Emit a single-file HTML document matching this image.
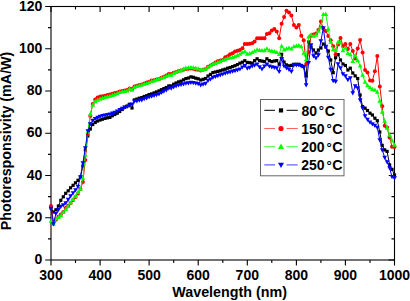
<!DOCTYPE html>
<html><head><meta charset="utf-8"><style>
html,body{margin:0;padding:0;background:#fff;width:410px;height:301px;overflow:hidden}
svg{display:block}
text{font-family:"Liberation Sans",sans-serif;font-weight:bold;font-size:14px;fill:#000}
</style></head><body>
<svg width="410" height="301" viewBox="0 0 410 301">
<g stroke="#000" stroke-width="1.1" fill="none">
<rect x="51.0" y="6.5" width="343.5" height="253.5"/>
<path d="M51.0 260.0V265.5M51.0 6.5V12.0M75.5 260.0V263.0M75.5 6.5V9.5M100.1 260.0V265.5M100.1 6.5V12.0M124.6 260.0V263.0M124.6 6.5V9.5M149.1 260.0V265.5M149.1 6.5V12.0M173.7 260.0V263.0M173.7 6.5V9.5M198.2 260.0V265.5M198.2 6.5V12.0M222.8 260.0V263.0M222.8 6.5V9.5M247.3 260.0V265.5M247.3 6.5V12.0M271.8 260.0V263.0M271.8 6.5V9.5M296.4 260.0V265.5M296.4 6.5V12.0M320.9 260.0V263.0M320.9 6.5V9.5M345.4 260.0V265.5M345.4 6.5V12.0M370.0 260.0V263.0M370.0 6.5V9.5M394.5 260.0V265.5M394.5 6.5V12.0M51.0 260.0H45.2M394.5 260.0H388.7M51.0 238.9H48.0M394.5 238.9H391.5M51.0 217.8H45.2M394.5 217.8H388.7M51.0 196.6H48.0M394.5 196.6H391.5M51.0 175.5H45.2M394.5 175.5H388.7M51.0 154.4H48.0M394.5 154.4H391.5M51.0 133.2H45.2M394.5 133.2H388.7M51.0 112.1H48.0M394.5 112.1H391.5M51.0 91.0H45.2M394.5 91.0H388.7M51.0 69.9H48.0M394.5 69.9H391.5M51.0 48.8H45.2M394.5 48.8H388.7M51.0 27.6H48.0M394.5 27.6H391.5M51.0 6.5H45.2M394.5 6.5H388.7"/>
</g>
<polyline fill="none" stroke="#000000" stroke-width="1" points="51.0,208.0 53.5,212.0 55.9,209.8 58.4,206.0 60.8,200.3 63.3,196.8 65.7,193.3 68.2,190.8 70.6,187.8 73.1,185.3 75.5,182.8 78.0,180.3 80.4,177.0 82.9,166.0 85.3,150.0 87.8,136.0 90.3,129.0 92.7,124.5 95.2,122.5 97.6,121.0 100.1,120.0 102.5,119.2 105.0,118.4 107.4,117.8 109.9,117.4 112.3,115.8 114.8,114.5 117.2,113.2 119.7,111.5 122.2,109.5 124.6,107.3 127.1,106.0 129.5,104.3 132.0,108.0 134.4,99.9 136.9,99.1 139.3,98.2 141.8,97.6 144.2,96.5 146.7,95.7 149.1,94.6 151.6,93.9 154.1,92.9 156.5,91.9 159.0,90.9 161.4,89.7 163.9,88.6 166.3,87.5 168.8,85.9 171.2,85.9 173.7,84.2 176.1,83.0 178.6,81.9 181.0,81.2 183.5,79.8 185.9,78.6 188.4,78.0 190.9,76.9 193.3,77.3 195.8,78.2 198.2,78.8 200.7,80.0 203.1,79.3 205.6,78.5 208.0,76.0 210.5,74.4 212.9,72.6 215.4,72.0 217.8,71.4 220.3,70.8 222.8,69.9 225.2,69.2 227.7,68.2 230.1,67.5 232.6,66.6 235.0,65.7 237.5,64.6 239.9,63.2 242.4,62.2 244.8,60.7 247.3,62.4 249.7,62.7 252.2,63.2 254.6,60.7 257.1,58.8 259.6,60.6 262.0,61.1 264.5,61.6 266.9,58.8 269.4,60.6 271.8,61.6 274.3,61.0 276.7,60.6 279.2,64.3 281.6,54.3 284.1,62.1 286.5,64.9 289.0,65.8 291.4,65.4 293.9,64.3 296.4,64.3 298.8,64.3 301.3,65.4 303.7,66.5 306.2,76.0 308.6,42.0 311.1,47.0 313.5,50.0 316.0,53.0 318.4,50.0 320.9,48.0 323.3,44.0 325.8,47.0 328.3,51.0 330.7,60.0 333.2,72.7 335.6,57.7 338.1,54.6 340.5,60.0 343.0,64.0 345.4,65.5 347.9,70.0 350.3,68.2 352.8,73.0 355.2,75.9 357.7,78.5 360.1,95.0 362.6,106.6 365.1,108.2 367.5,110.5 370.0,113.2 372.4,115.0 374.9,118.2 377.3,120.7 379.8,132.0 382.2,145.4 384.7,149.9 387.1,151.4 389.6,164.9 392.0,169.3 394.5,175.0"/>
<g fill="#000000"><rect x="49.4" y="206.4" width="3.2" height="3.2"/><rect x="51.9" y="210.4" width="3.2" height="3.2"/><rect x="54.3" y="208.2" width="3.2" height="3.2"/><rect x="56.8" y="204.4" width="3.2" height="3.2"/><rect x="59.2" y="198.7" width="3.2" height="3.2"/><rect x="61.7" y="195.2" width="3.2" height="3.2"/><rect x="64.1" y="191.7" width="3.2" height="3.2"/><rect x="66.6" y="189.2" width="3.2" height="3.2"/><rect x="69.0" y="186.2" width="3.2" height="3.2"/><rect x="71.5" y="183.7" width="3.2" height="3.2"/><rect x="73.9" y="181.2" width="3.2" height="3.2"/><rect x="76.4" y="178.7" width="3.2" height="3.2"/><rect x="78.8" y="175.4" width="3.2" height="3.2"/><rect x="81.3" y="164.4" width="3.2" height="3.2"/><rect x="83.8" y="148.4" width="3.2" height="3.2"/><rect x="86.2" y="134.4" width="3.2" height="3.2"/><rect x="88.7" y="127.4" width="3.2" height="3.2"/><rect x="91.1" y="122.9" width="3.2" height="3.2"/><rect x="93.6" y="120.9" width="3.2" height="3.2"/><rect x="96.0" y="119.4" width="3.2" height="3.2"/><rect x="98.5" y="118.4" width="3.2" height="3.2"/><rect x="100.9" y="117.6" width="3.2" height="3.2"/><rect x="103.4" y="116.8" width="3.2" height="3.2"/><rect x="105.8" y="116.2" width="3.2" height="3.2"/><rect x="108.3" y="115.8" width="3.2" height="3.2"/><rect x="110.7" y="114.2" width="3.2" height="3.2"/><rect x="113.2" y="112.9" width="3.2" height="3.2"/><rect x="115.6" y="111.6" width="3.2" height="3.2"/><rect x="118.1" y="109.9" width="3.2" height="3.2"/><rect x="120.6" y="107.9" width="3.2" height="3.2"/><rect x="123.0" y="105.7" width="3.2" height="3.2"/><rect x="125.5" y="104.4" width="3.2" height="3.2"/><rect x="127.9" y="102.7" width="3.2" height="3.2"/><rect x="130.4" y="106.4" width="3.2" height="3.2"/><rect x="132.8" y="98.3" width="3.2" height="3.2"/><rect x="135.3" y="97.5" width="3.2" height="3.2"/><rect x="137.7" y="96.6" width="3.2" height="3.2"/><rect x="140.2" y="96.0" width="3.2" height="3.2"/><rect x="142.6" y="94.9" width="3.2" height="3.2"/><rect x="145.1" y="94.1" width="3.2" height="3.2"/><rect x="147.5" y="93.0" width="3.2" height="3.2"/><rect x="150.0" y="92.3" width="3.2" height="3.2"/><rect x="152.5" y="91.3" width="3.2" height="3.2"/><rect x="154.9" y="90.3" width="3.2" height="3.2"/><rect x="157.4" y="89.3" width="3.2" height="3.2"/><rect x="159.8" y="88.1" width="3.2" height="3.2"/><rect x="162.3" y="87.0" width="3.2" height="3.2"/><rect x="164.7" y="85.9" width="3.2" height="3.2"/><rect x="167.2" y="84.3" width="3.2" height="3.2"/><rect x="169.6" y="84.3" width="3.2" height="3.2"/><rect x="172.1" y="82.6" width="3.2" height="3.2"/><rect x="174.5" y="81.4" width="3.2" height="3.2"/><rect x="177.0" y="80.3" width="3.2" height="3.2"/><rect x="179.4" y="79.6" width="3.2" height="3.2"/><rect x="181.9" y="78.2" width="3.2" height="3.2"/><rect x="184.3" y="77.0" width="3.2" height="3.2"/><rect x="186.8" y="76.4" width="3.2" height="3.2"/><rect x="189.3" y="75.3" width="3.2" height="3.2"/><rect x="191.7" y="75.7" width="3.2" height="3.2"/><rect x="194.2" y="76.6" width="3.2" height="3.2"/><rect x="196.6" y="77.2" width="3.2" height="3.2"/><rect x="199.1" y="78.4" width="3.2" height="3.2"/><rect x="201.5" y="77.7" width="3.2" height="3.2"/><rect x="204.0" y="76.9" width="3.2" height="3.2"/><rect x="206.4" y="74.4" width="3.2" height="3.2"/><rect x="208.9" y="72.8" width="3.2" height="3.2"/><rect x="211.3" y="71.0" width="3.2" height="3.2"/><rect x="213.8" y="70.4" width="3.2" height="3.2"/><rect x="216.2" y="69.8" width="3.2" height="3.2"/><rect x="218.7" y="69.2" width="3.2" height="3.2"/><rect x="221.2" y="68.3" width="3.2" height="3.2"/><rect x="223.6" y="67.6" width="3.2" height="3.2"/><rect x="226.1" y="66.6" width="3.2" height="3.2"/><rect x="228.5" y="65.9" width="3.2" height="3.2"/><rect x="231.0" y="65.0" width="3.2" height="3.2"/><rect x="233.4" y="64.1" width="3.2" height="3.2"/><rect x="235.9" y="63.0" width="3.2" height="3.2"/><rect x="238.3" y="61.6" width="3.2" height="3.2"/><rect x="240.8" y="60.6" width="3.2" height="3.2"/><rect x="243.2" y="59.1" width="3.2" height="3.2"/><rect x="245.7" y="60.8" width="3.2" height="3.2"/><rect x="248.1" y="61.1" width="3.2" height="3.2"/><rect x="250.6" y="61.6" width="3.2" height="3.2"/><rect x="253.0" y="59.1" width="3.2" height="3.2"/><rect x="255.5" y="57.2" width="3.2" height="3.2"/><rect x="258.0" y="59.0" width="3.2" height="3.2"/><rect x="260.4" y="59.5" width="3.2" height="3.2"/><rect x="262.9" y="60.0" width="3.2" height="3.2"/><rect x="265.3" y="57.2" width="3.2" height="3.2"/><rect x="267.8" y="59.0" width="3.2" height="3.2"/><rect x="270.2" y="60.0" width="3.2" height="3.2"/><rect x="272.7" y="59.4" width="3.2" height="3.2"/><rect x="275.1" y="59.0" width="3.2" height="3.2"/><rect x="277.6" y="62.7" width="3.2" height="3.2"/><rect x="280.0" y="52.7" width="3.2" height="3.2"/><rect x="282.5" y="60.5" width="3.2" height="3.2"/><rect x="284.9" y="63.3" width="3.2" height="3.2"/><rect x="287.4" y="64.2" width="3.2" height="3.2"/><rect x="289.8" y="63.8" width="3.2" height="3.2"/><rect x="292.3" y="62.7" width="3.2" height="3.2"/><rect x="294.8" y="62.7" width="3.2" height="3.2"/><rect x="297.2" y="62.7" width="3.2" height="3.2"/><rect x="299.7" y="63.8" width="3.2" height="3.2"/><rect x="302.1" y="64.9" width="3.2" height="3.2"/><rect x="304.6" y="74.4" width="3.2" height="3.2"/><rect x="307.0" y="40.4" width="3.2" height="3.2"/><rect x="309.5" y="45.4" width="3.2" height="3.2"/><rect x="311.9" y="48.4" width="3.2" height="3.2"/><rect x="314.4" y="51.4" width="3.2" height="3.2"/><rect x="316.8" y="48.4" width="3.2" height="3.2"/><rect x="319.3" y="46.4" width="3.2" height="3.2"/><rect x="321.7" y="42.4" width="3.2" height="3.2"/><rect x="324.2" y="45.4" width="3.2" height="3.2"/><rect x="326.7" y="49.4" width="3.2" height="3.2"/><rect x="329.1" y="58.4" width="3.2" height="3.2"/><rect x="331.6" y="71.1" width="3.2" height="3.2"/><rect x="334.0" y="56.1" width="3.2" height="3.2"/><rect x="336.5" y="53.0" width="3.2" height="3.2"/><rect x="338.9" y="58.4" width="3.2" height="3.2"/><rect x="341.4" y="62.4" width="3.2" height="3.2"/><rect x="343.8" y="63.9" width="3.2" height="3.2"/><rect x="346.3" y="68.4" width="3.2" height="3.2"/><rect x="348.7" y="66.6" width="3.2" height="3.2"/><rect x="351.2" y="71.4" width="3.2" height="3.2"/><rect x="353.6" y="74.3" width="3.2" height="3.2"/><rect x="356.1" y="76.9" width="3.2" height="3.2"/><rect x="358.5" y="93.4" width="3.2" height="3.2"/><rect x="361.0" y="105.0" width="3.2" height="3.2"/><rect x="363.5" y="106.6" width="3.2" height="3.2"/><rect x="365.9" y="108.9" width="3.2" height="3.2"/><rect x="368.4" y="111.6" width="3.2" height="3.2"/><rect x="370.8" y="113.4" width="3.2" height="3.2"/><rect x="373.3" y="116.6" width="3.2" height="3.2"/><rect x="375.7" y="119.1" width="3.2" height="3.2"/><rect x="378.2" y="130.4" width="3.2" height="3.2"/><rect x="380.6" y="143.8" width="3.2" height="3.2"/><rect x="383.1" y="148.3" width="3.2" height="3.2"/><rect x="385.5" y="149.8" width="3.2" height="3.2"/><rect x="388.0" y="163.3" width="3.2" height="3.2"/><rect x="390.4" y="167.7" width="3.2" height="3.2"/><rect x="392.9" y="173.4" width="3.2" height="3.2"/></g>
<polyline fill="none" stroke="#ff0000" stroke-width="1" points="51.0,206.0 53.5,222.0 55.9,219.8 58.4,216.8 60.8,214.5 63.3,211.9 65.7,208.1 68.2,205.7 70.6,202.9 73.1,199.9 75.5,197.1 78.0,193.5 80.4,188.9 82.9,182.0 85.3,160.0 87.8,134.0 90.3,116.0 92.7,104.0 95.2,99.5 97.6,97.5 100.1,96.5 102.5,96.2 105.0,95.8 107.4,95.1 109.9,94.4 112.3,93.7 114.8,93.0 117.2,92.4 119.7,91.6 122.2,91.0 124.6,90.4 127.1,90.0 129.5,88.6 132.0,89.0 134.4,86.4 136.9,85.8 139.3,85.0 141.8,84.5 144.2,83.4 146.7,82.5 149.1,81.7 151.6,80.5 154.1,80.2 156.5,79.5 159.0,78.9 161.4,77.8 163.9,76.7 166.3,75.6 168.8,74.0 171.2,74.0 173.7,72.7 176.1,71.9 178.6,71.0 181.0,70.5 183.5,69.7 185.9,69.0 188.4,68.8 190.9,68.5 193.3,68.8 195.8,69.5 198.2,69.8 200.7,70.5 203.1,69.8 205.6,69.0 208.0,66.8 210.5,65.6 212.9,64.2 215.4,62.4 217.8,61.3 220.3,60.4 222.8,59.9 225.2,57.3 227.7,56.3 230.1,54.2 232.6,53.3 235.0,51.6 237.5,50.8 239.9,50.0 242.4,48.3 244.8,44.1 247.3,44.1 249.7,43.7 252.2,43.3 254.6,41.6 257.1,38.2 259.6,38.2 262.0,38.2 264.5,38.2 266.9,34.1 269.4,33.2 271.8,30.5 274.3,29.0 276.7,31.4 279.2,38.2 281.6,23.8 284.1,17.1 286.5,10.8 289.0,12.5 291.4,15.5 293.9,24.9 296.4,27.4 298.8,24.9 301.3,35.7 303.7,40.2 306.2,63.9 308.6,52.0 311.1,35.5 313.5,34.6 316.0,33.6 318.4,30.0 320.9,21.6 323.3,28.4 325.8,31.0 328.3,36.0 330.7,40.3 333.2,46.2 335.6,54.6 338.1,44.6 340.5,38.0 343.0,46.0 345.4,43.9 347.9,49.0 350.3,43.9 352.8,51.0 355.2,58.6 357.7,48.6 360.1,40.0 362.6,52.5 365.1,69.9 367.5,72.5 370.0,80.4 372.4,80.8 374.9,71.3 377.3,55.9 379.8,86.4 382.2,106.2 384.7,125.8 387.1,127.5 389.6,137.4 392.0,146.7 394.5,147.0"/>
<g fill="#ff0000"><circle cx="51.0" cy="206.0" r="2.0"/><circle cx="53.5" cy="222.0" r="2.0"/><circle cx="55.9" cy="219.8" r="2.0"/><circle cx="58.4" cy="216.8" r="2.0"/><circle cx="60.8" cy="214.5" r="2.0"/><circle cx="63.3" cy="211.9" r="2.0"/><circle cx="65.7" cy="208.1" r="2.0"/><circle cx="68.2" cy="205.7" r="2.0"/><circle cx="70.6" cy="202.9" r="2.0"/><circle cx="73.1" cy="199.9" r="2.0"/><circle cx="75.5" cy="197.1" r="2.0"/><circle cx="78.0" cy="193.5" r="2.0"/><circle cx="80.4" cy="188.9" r="2.0"/><circle cx="82.9" cy="182.0" r="2.0"/><circle cx="85.3" cy="160.0" r="2.0"/><circle cx="87.8" cy="134.0" r="2.0"/><circle cx="90.3" cy="116.0" r="2.0"/><circle cx="92.7" cy="104.0" r="2.0"/><circle cx="95.2" cy="99.5" r="2.0"/><circle cx="97.6" cy="97.5" r="2.0"/><circle cx="100.1" cy="96.5" r="2.0"/><circle cx="102.5" cy="96.2" r="2.0"/><circle cx="105.0" cy="95.8" r="2.0"/><circle cx="107.4" cy="95.1" r="2.0"/><circle cx="109.9" cy="94.4" r="2.0"/><circle cx="112.3" cy="93.7" r="2.0"/><circle cx="114.8" cy="93.0" r="2.0"/><circle cx="117.2" cy="92.4" r="2.0"/><circle cx="119.7" cy="91.6" r="2.0"/><circle cx="122.2" cy="91.0" r="2.0"/><circle cx="124.6" cy="90.4" r="2.0"/><circle cx="127.1" cy="90.0" r="2.0"/><circle cx="129.5" cy="88.6" r="2.0"/><circle cx="132.0" cy="89.0" r="2.0"/><circle cx="134.4" cy="86.4" r="2.0"/><circle cx="136.9" cy="85.8" r="2.0"/><circle cx="139.3" cy="85.0" r="2.0"/><circle cx="141.8" cy="84.5" r="2.0"/><circle cx="144.2" cy="83.4" r="2.0"/><circle cx="146.7" cy="82.5" r="2.0"/><circle cx="149.1" cy="81.7" r="2.0"/><circle cx="151.6" cy="80.5" r="2.0"/><circle cx="154.1" cy="80.2" r="2.0"/><circle cx="156.5" cy="79.5" r="2.0"/><circle cx="159.0" cy="78.9" r="2.0"/><circle cx="161.4" cy="77.8" r="2.0"/><circle cx="163.9" cy="76.7" r="2.0"/><circle cx="166.3" cy="75.6" r="2.0"/><circle cx="168.8" cy="74.0" r="2.0"/><circle cx="171.2" cy="74.0" r="2.0"/><circle cx="173.7" cy="72.7" r="2.0"/><circle cx="176.1" cy="71.9" r="2.0"/><circle cx="178.6" cy="71.0" r="2.0"/><circle cx="181.0" cy="70.5" r="2.0"/><circle cx="183.5" cy="69.7" r="2.0"/><circle cx="185.9" cy="69.0" r="2.0"/><circle cx="188.4" cy="68.8" r="2.0"/><circle cx="190.9" cy="68.5" r="2.0"/><circle cx="193.3" cy="68.8" r="2.0"/><circle cx="195.8" cy="69.5" r="2.0"/><circle cx="198.2" cy="69.8" r="2.0"/><circle cx="200.7" cy="70.5" r="2.0"/><circle cx="203.1" cy="69.8" r="2.0"/><circle cx="205.6" cy="69.0" r="2.0"/><circle cx="208.0" cy="66.8" r="2.0"/><circle cx="210.5" cy="65.6" r="2.0"/><circle cx="212.9" cy="64.2" r="2.0"/><circle cx="215.4" cy="62.4" r="2.0"/><circle cx="217.8" cy="61.3" r="2.0"/><circle cx="220.3" cy="60.4" r="2.0"/><circle cx="222.8" cy="59.9" r="2.0"/><circle cx="225.2" cy="57.3" r="2.0"/><circle cx="227.7" cy="56.3" r="2.0"/><circle cx="230.1" cy="54.2" r="2.0"/><circle cx="232.6" cy="53.3" r="2.0"/><circle cx="235.0" cy="51.6" r="2.0"/><circle cx="237.5" cy="50.8" r="2.0"/><circle cx="239.9" cy="50.0" r="2.0"/><circle cx="242.4" cy="48.3" r="2.0"/><circle cx="244.8" cy="44.1" r="2.0"/><circle cx="247.3" cy="44.1" r="2.0"/><circle cx="249.7" cy="43.7" r="2.0"/><circle cx="252.2" cy="43.3" r="2.0"/><circle cx="254.6" cy="41.6" r="2.0"/><circle cx="257.1" cy="38.2" r="2.0"/><circle cx="259.6" cy="38.2" r="2.0"/><circle cx="262.0" cy="38.2" r="2.0"/><circle cx="264.5" cy="38.2" r="2.0"/><circle cx="266.9" cy="34.1" r="2.0"/><circle cx="269.4" cy="33.2" r="2.0"/><circle cx="271.8" cy="30.5" r="2.0"/><circle cx="274.3" cy="29.0" r="2.0"/><circle cx="276.7" cy="31.4" r="2.0"/><circle cx="279.2" cy="38.2" r="2.0"/><circle cx="281.6" cy="23.8" r="2.0"/><circle cx="284.1" cy="17.1" r="2.0"/><circle cx="286.5" cy="10.8" r="2.0"/><circle cx="289.0" cy="12.5" r="2.0"/><circle cx="291.4" cy="15.5" r="2.0"/><circle cx="293.9" cy="24.9" r="2.0"/><circle cx="296.4" cy="27.4" r="2.0"/><circle cx="298.8" cy="24.9" r="2.0"/><circle cx="301.3" cy="35.7" r="2.0"/><circle cx="303.7" cy="40.2" r="2.0"/><circle cx="306.2" cy="63.9" r="2.0"/><circle cx="308.6" cy="52.0" r="2.0"/><circle cx="311.1" cy="35.5" r="2.0"/><circle cx="313.5" cy="34.6" r="2.0"/><circle cx="316.0" cy="33.6" r="2.0"/><circle cx="318.4" cy="30.0" r="2.0"/><circle cx="320.9" cy="21.6" r="2.0"/><circle cx="323.3" cy="28.4" r="2.0"/><circle cx="325.8" cy="31.0" r="2.0"/><circle cx="328.3" cy="36.0" r="2.0"/><circle cx="330.7" cy="40.3" r="2.0"/><circle cx="333.2" cy="46.2" r="2.0"/><circle cx="335.6" cy="54.6" r="2.0"/><circle cx="338.1" cy="44.6" r="2.0"/><circle cx="340.5" cy="38.0" r="2.0"/><circle cx="343.0" cy="46.0" r="2.0"/><circle cx="345.4" cy="43.9" r="2.0"/><circle cx="347.9" cy="49.0" r="2.0"/><circle cx="350.3" cy="43.9" r="2.0"/><circle cx="352.8" cy="51.0" r="2.0"/><circle cx="355.2" cy="58.6" r="2.0"/><circle cx="357.7" cy="48.6" r="2.0"/><circle cx="360.1" cy="40.0" r="2.0"/><circle cx="362.6" cy="52.5" r="2.0"/><circle cx="365.1" cy="69.9" r="2.0"/><circle cx="367.5" cy="72.5" r="2.0"/><circle cx="370.0" cy="80.4" r="2.0"/><circle cx="372.4" cy="80.8" r="2.0"/><circle cx="374.9" cy="71.3" r="2.0"/><circle cx="377.3" cy="55.9" r="2.0"/><circle cx="379.8" cy="86.4" r="2.0"/><circle cx="382.2" cy="106.2" r="2.0"/><circle cx="384.7" cy="125.8" r="2.0"/><circle cx="387.1" cy="127.5" r="2.0"/><circle cx="389.6" cy="137.4" r="2.0"/><circle cx="392.0" cy="146.7" r="2.0"/><circle cx="394.5" cy="147.0" r="2.0"/></g>
<polyline fill="none" stroke="#00ff00" stroke-width="1" points="51.0,221.0 53.5,224.0 55.9,218.7 58.4,217.2 60.8,215.6 63.3,212.4 65.7,209.2 68.2,206.2 70.6,202.7 73.1,199.2 75.5,196.2 78.0,192.2 80.4,189.0 82.9,178.0 85.3,155.0 87.8,132.0 90.3,114.0 92.7,105.0 95.2,101.5 97.6,100.0 100.1,99.0 102.5,98.2 105.0,97.4 107.4,96.7 109.9,96.0 112.3,95.3 114.8,94.6 117.2,93.6 119.7,92.4 122.2,91.9 124.6,91.2 127.1,90.9 129.5,88.7 132.0,90.1 134.4,87.2 136.9,86.4 139.3,85.5 141.8,84.9 144.2,84.1 146.7,83.4 149.1,82.6 151.6,81.2 154.1,80.7 156.5,79.8 159.0,79.0 161.4,78.1 163.9,77.2 166.3,76.3 168.8,75.0 171.2,75.0 173.7,73.3 176.1,72.2 178.6,71.1 181.0,70.5 183.5,69.1 185.9,67.9 188.4,67.7 190.9,67.4 193.3,67.7 195.8,68.3 198.2,68.8 200.7,70.0 203.1,69.5 205.6,69.0 208.0,67.0 210.5,65.6 212.9,64.0 215.4,63.2 217.8,62.3 220.3,61.5 222.8,60.4 225.2,59.5 227.7,58.3 230.1,57.8 232.6,57.2 235.0,56.6 237.5,55.3 239.9,54.1 242.4,52.6 244.8,51.6 247.3,54.1 249.7,53.5 252.2,52.4 254.6,51.2 257.1,49.7 259.6,50.2 262.0,50.6 264.5,50.6 266.9,48.8 269.4,50.6 271.8,51.0 274.3,51.5 276.7,52.4 279.2,54.3 281.6,46.0 284.1,49.7 286.5,48.8 289.0,47.9 291.4,48.8 293.9,46.6 296.4,46.0 298.8,45.5 301.3,46.6 303.7,53.1 306.2,59.6 308.6,36.9 311.1,34.7 313.5,36.0 316.0,35.0 318.4,31.0 320.9,27.0 323.3,14.3 325.8,14.3 328.3,29.0 330.7,42.0 333.2,49.6 335.6,50.2 338.1,42.0 340.5,42.5 343.0,50.6 345.4,47.9 347.9,53.2 350.3,54.5 352.8,61.2 355.2,55.2 357.7,60.5 360.1,65.9 362.6,75.1 365.1,82.1 367.5,85.6 370.0,87.5 372.4,89.3 374.9,90.0 377.3,92.0 379.8,101.0 382.2,112.0 384.7,121.0 387.1,128.0 389.6,135.0 392.0,140.5 394.5,145.0"/>
<g fill="#00ff00"><path d="M51.0 218.5L53.4 222.7L48.6 222.7Z"/><path d="M53.5 221.5L55.8 225.7L51.1 225.7Z"/><path d="M55.9 216.2L58.3 220.4L53.6 220.4Z"/><path d="M58.4 214.7L60.7 218.9L56.0 218.9Z"/><path d="M60.8 213.1L63.2 217.3L58.5 217.3Z"/><path d="M63.3 209.9L65.6 214.1L60.9 214.1Z"/><path d="M65.7 206.7L68.1 210.9L63.4 210.9Z"/><path d="M68.2 203.7L70.5 207.9L65.8 207.9Z"/><path d="M70.6 200.2L73.0 204.4L68.3 204.4Z"/><path d="M73.1 196.7L75.4 200.9L70.7 200.9Z"/><path d="M75.5 193.7L77.9 197.9L73.2 197.9Z"/><path d="M78.0 189.7L80.3 193.9L75.6 193.9Z"/><path d="M80.4 186.5L82.8 190.7L78.1 190.7Z"/><path d="M82.9 175.5L85.2 179.7L80.5 179.7Z"/><path d="M85.3 152.5L87.7 156.7L83.0 156.7Z"/><path d="M87.8 129.5L90.2 133.7L85.5 133.7Z"/><path d="M90.3 111.5L92.6 115.7L87.9 115.7Z"/><path d="M92.7 102.5L95.1 106.7L90.4 106.7Z"/><path d="M95.2 99.0L97.5 103.2L92.8 103.2Z"/><path d="M97.6 97.5L100.0 101.7L95.3 101.7Z"/><path d="M100.1 96.5L102.4 100.7L97.7 100.7Z"/><path d="M102.5 95.7L104.9 99.9L100.2 99.9Z"/><path d="M105.0 94.9L107.3 99.1L102.6 99.1Z"/><path d="M107.4 94.2L109.8 98.4L105.1 98.4Z"/><path d="M109.9 93.5L112.2 97.7L107.5 97.7Z"/><path d="M112.3 92.8L114.7 97.0L110.0 97.0Z"/><path d="M114.8 92.1L117.1 96.3L112.4 96.3Z"/><path d="M117.2 91.1L119.6 95.3L114.9 95.3Z"/><path d="M119.7 89.9L122.0 94.1L117.4 94.1Z"/><path d="M122.2 89.3L124.5 93.5L119.8 93.5Z"/><path d="M124.6 88.7L127.0 92.9L122.3 92.9Z"/><path d="M127.1 88.4L129.4 92.6L124.7 92.6Z"/><path d="M129.5 86.2L131.9 90.4L127.2 90.4Z"/><path d="M132.0 87.6L134.3 91.8L129.6 91.8Z"/><path d="M134.4 84.7L136.8 88.9L132.1 88.9Z"/><path d="M136.9 83.9L139.2 88.1L134.5 88.1Z"/><path d="M139.3 83.0L141.7 87.2L137.0 87.2Z"/><path d="M141.8 82.4L144.1 86.6L139.4 86.6Z"/><path d="M144.2 81.5L146.6 85.7L141.9 85.7Z"/><path d="M146.7 80.9L149.0 85.1L144.3 85.1Z"/><path d="M149.1 80.0L151.5 84.2L146.8 84.2Z"/><path d="M151.6 78.7L153.9 82.9L149.2 82.9Z"/><path d="M154.1 78.2L156.4 82.4L151.7 82.4Z"/><path d="M156.5 77.3L158.9 81.5L154.2 81.5Z"/><path d="M159.0 76.5L161.3 80.7L156.6 80.7Z"/><path d="M161.4 75.5L163.8 79.7L159.1 79.7Z"/><path d="M163.9 74.7L166.2 78.9L161.5 78.9Z"/><path d="M166.3 73.8L168.7 78.0L164.0 78.0Z"/><path d="M168.8 72.5L171.1 76.7L166.4 76.7Z"/><path d="M171.2 72.5L173.6 76.7L168.9 76.7Z"/><path d="M173.7 70.8L176.0 75.0L171.3 75.0Z"/><path d="M176.1 69.7L178.5 73.9L173.8 73.9Z"/><path d="M178.6 68.6L180.9 72.8L176.2 72.8Z"/><path d="M181.0 68.0L183.4 72.2L178.7 72.2Z"/><path d="M183.5 66.6L185.8 70.8L181.1 70.8Z"/><path d="M185.9 65.4L188.3 69.6L183.6 69.6Z"/><path d="M188.4 65.2L190.8 69.4L186.1 69.4Z"/><path d="M190.9 64.9L193.2 69.1L188.5 69.1Z"/><path d="M193.3 65.2L195.7 69.4L191.0 69.4Z"/><path d="M195.8 65.8L198.1 70.0L193.4 70.0Z"/><path d="M198.2 66.3L200.6 70.5L195.9 70.5Z"/><path d="M200.7 67.5L203.0 71.7L198.3 71.7Z"/><path d="M203.1 67.0L205.5 71.2L200.8 71.2Z"/><path d="M205.6 66.5L207.9 70.7L203.2 70.7Z"/><path d="M208.0 64.5L210.4 68.7L205.7 68.7Z"/><path d="M210.5 63.1L212.8 67.3L208.1 67.3Z"/><path d="M212.9 61.5L215.3 65.7L210.6 65.7Z"/><path d="M215.4 60.7L217.7 64.9L213.0 64.9Z"/><path d="M217.8 59.7L220.2 63.9L215.5 63.9Z"/><path d="M220.3 59.0L222.6 63.2L217.9 63.2Z"/><path d="M222.8 57.9L225.1 62.1L220.4 62.1Z"/><path d="M225.2 57.0L227.6 61.2L222.9 61.2Z"/><path d="M227.7 55.8L230.0 60.0L225.3 60.0Z"/><path d="M230.1 55.3L232.5 59.5L227.8 59.5Z"/><path d="M232.6 54.7L234.9 58.9L230.2 58.9Z"/><path d="M235.0 54.1L237.4 58.3L232.7 58.3Z"/><path d="M237.5 52.8L239.8 57.0L235.1 57.0Z"/><path d="M239.9 51.6L242.3 55.8L237.6 55.8Z"/><path d="M242.4 50.1L244.7 54.3L240.0 54.3Z"/><path d="M244.8 49.1L247.2 53.3L242.5 53.3Z"/><path d="M247.3 51.6L249.6 55.8L244.9 55.8Z"/><path d="M249.7 51.0L252.1 55.2L247.4 55.2Z"/><path d="M252.2 49.9L254.5 54.1L249.8 54.1Z"/><path d="M254.6 48.6L257.0 52.8L252.3 52.8Z"/><path d="M257.1 47.2L259.5 51.4L254.8 51.4Z"/><path d="M259.6 47.7L261.9 51.9L257.2 51.9Z"/><path d="M262.0 48.1L264.4 52.3L259.7 52.3Z"/><path d="M264.5 48.1L266.8 52.3L262.1 52.3Z"/><path d="M266.9 46.3L269.3 50.5L264.6 50.5Z"/><path d="M269.4 48.1L271.7 52.3L267.0 52.3Z"/><path d="M271.8 48.5L274.2 52.7L269.5 52.7Z"/><path d="M274.3 49.0L276.6 53.2L271.9 53.2Z"/><path d="M276.7 49.9L279.1 54.1L274.4 54.1Z"/><path d="M279.2 51.8L281.5 56.0L276.8 56.0Z"/><path d="M281.6 43.5L284.0 47.7L279.3 47.7Z"/><path d="M284.1 47.2L286.4 51.4L281.7 51.4Z"/><path d="M286.5 46.3L288.9 50.5L284.2 50.5Z"/><path d="M289.0 45.4L291.3 49.6L286.6 49.6Z"/><path d="M291.4 46.3L293.8 50.5L289.1 50.5Z"/><path d="M293.9 44.1L296.3 48.3L291.6 48.3Z"/><path d="M296.4 43.5L298.7 47.7L294.0 47.7Z"/><path d="M298.8 43.0L301.2 47.2L296.5 47.2Z"/><path d="M301.3 44.1L303.6 48.3L298.9 48.3Z"/><path d="M303.7 50.6L306.1 54.8L301.4 54.8Z"/><path d="M306.2 57.1L308.5 61.3L303.8 61.3Z"/><path d="M308.6 34.4L311.0 38.6L306.3 38.6Z"/><path d="M311.1 32.2L313.4 36.4L308.7 36.4Z"/><path d="M313.5 33.5L315.9 37.7L311.2 37.7Z"/><path d="M316.0 32.5L318.3 36.7L313.6 36.7Z"/><path d="M318.4 28.5L320.8 32.7L316.1 32.7Z"/><path d="M320.9 24.5L323.2 28.7L318.5 28.7Z"/><path d="M323.3 11.8L325.7 16.0L321.0 16.0Z"/><path d="M325.8 11.8L328.2 16.0L323.4 16.0Z"/><path d="M328.3 26.5L330.6 30.7L325.9 30.7Z"/><path d="M330.7 39.5L333.1 43.7L328.4 43.7Z"/><path d="M333.2 47.1L335.5 51.3L330.8 51.3Z"/><path d="M335.6 47.7L338.0 51.9L333.3 51.9Z"/><path d="M338.1 39.5L340.4 43.7L335.7 43.7Z"/><path d="M340.5 40.0L342.9 44.2L338.2 44.2Z"/><path d="M343.0 48.1L345.3 52.3L340.6 52.3Z"/><path d="M345.4 45.4L347.8 49.6L343.1 49.6Z"/><path d="M347.9 50.7L350.2 54.9L345.5 54.9Z"/><path d="M350.3 52.0L352.7 56.2L348.0 56.2Z"/><path d="M352.8 58.7L355.1 62.9L350.4 62.9Z"/><path d="M355.2 52.7L357.6 56.9L352.9 56.9Z"/><path d="M357.7 58.0L360.0 62.2L355.3 62.2Z"/><path d="M360.1 63.4L362.5 67.6L357.8 67.6Z"/><path d="M362.6 72.6L365.0 76.8L360.3 76.8Z"/><path d="M365.1 79.6L367.4 83.8L362.7 83.8Z"/><path d="M367.5 83.1L369.9 87.3L365.2 87.3Z"/><path d="M370.0 85.0L372.3 89.2L367.6 89.2Z"/><path d="M372.4 86.8L374.8 91.0L370.1 91.0Z"/><path d="M374.9 87.5L377.2 91.7L372.5 91.7Z"/><path d="M377.3 89.5L379.7 93.7L375.0 93.7Z"/><path d="M379.8 98.5L382.1 102.7L377.4 102.7Z"/><path d="M382.2 109.5L384.6 113.7L379.9 113.7Z"/><path d="M384.7 118.5L387.0 122.7L382.3 122.7Z"/><path d="M387.1 125.5L389.5 129.7L384.8 129.7Z"/><path d="M389.6 132.5L391.9 136.7L387.2 136.7Z"/><path d="M392.0 138.0L394.4 142.2L389.7 142.2Z"/><path d="M394.5 142.5L396.9 146.7L392.1 146.7Z"/></g>
<polyline fill="none" stroke="#0000ff" stroke-width="1" points="51.0,208.5 53.5,224.0 55.9,213.6 58.4,209.8 60.8,206.5 63.3,205.0 65.7,203.0 68.2,199.5 70.6,196.0 73.1,193.0 75.5,190.0 78.0,186.5 80.4,177.0 82.9,163.0 85.3,148.0 87.8,131.0 90.3,124.0 92.7,120.5 95.2,118.8 97.6,117.5 100.1,116.5 102.5,115.6 105.0,115.2 107.4,114.6 109.9,114.2 112.3,113.2 114.8,112.4 117.2,111.1 119.7,109.6 122.2,108.5 124.6,107.3 127.1,106.6 129.5,105.2 132.0,104.3 134.4,101.3 136.9,100.8 139.3,100.3 141.8,99.9 144.2,98.8 146.7,98.0 149.1,96.9 151.6,96.3 154.1,95.5 156.5,94.7 159.0,93.9 161.4,92.6 163.9,91.3 166.3,90.1 168.8,88.2 171.2,88.2 173.7,86.9 176.1,86.0 178.6,85.1 181.0,84.6 183.5,83.9 185.9,83.2 188.4,82.9 190.9,82.4 193.3,82.7 195.8,83.2 198.2,83.8 200.7,85.0 203.1,84.3 205.6,83.5 208.0,80.5 210.5,79.1 212.9,77.4 215.4,76.6 217.8,75.7 220.3,74.9 222.8,74.1 225.2,73.3 227.7,72.4 230.1,71.9 232.6,71.3 235.0,70.7 237.5,69.9 239.9,69.1 242.4,67.1 244.8,65.7 247.3,68.2 249.7,67.4 252.2,66.1 254.6,65.2 257.1,64.3 259.6,67.0 262.0,68.9 264.5,66.1 266.9,64.3 269.4,66.1 271.8,67.0 274.3,67.5 276.7,68.0 279.2,71.6 281.6,58.8 284.1,66.1 286.5,68.0 289.0,69.5 291.4,71.4 293.9,65.0 296.4,65.0 298.8,65.0 301.3,66.0 303.7,67.1 306.2,85.0 308.6,62.8 311.1,45.0 313.5,56.0 316.0,58.0 318.4,55.0 320.9,41.0 323.3,28.0 325.8,46.4 328.3,57.5 330.7,69.5 333.2,80.7 335.6,81.5 338.1,64.0 340.5,68.0 343.0,74.0 345.4,76.0 347.9,79.8 350.3,78.0 352.8,93.0 355.2,86.0 357.7,88.0 360.1,100.0 362.6,108.0 365.1,116.0 367.5,119.5 370.0,122.3 372.4,124.0 374.9,125.5 377.3,127.5 379.8,140.0 382.2,149.9 384.7,157.4 387.1,161.9 389.6,167.9 392.0,176.8 394.5,178.0"/>
<g fill="#0000ff"><path d="M51.0 211.0L53.4 206.8L48.6 206.8Z"/><path d="M53.5 226.5L55.8 222.3L51.1 222.3Z"/><path d="M55.9 216.1L58.3 211.9L53.6 211.9Z"/><path d="M58.4 212.3L60.7 208.1L56.0 208.1Z"/><path d="M60.8 209.0L63.2 204.8L58.5 204.8Z"/><path d="M63.3 207.5L65.6 203.3L60.9 203.3Z"/><path d="M65.7 205.5L68.1 201.3L63.4 201.3Z"/><path d="M68.2 202.0L70.5 197.8L65.8 197.8Z"/><path d="M70.6 198.5L73.0 194.3L68.3 194.3Z"/><path d="M73.1 195.5L75.4 191.3L70.7 191.3Z"/><path d="M75.5 192.5L77.9 188.3L73.2 188.3Z"/><path d="M78.0 189.0L80.3 184.8L75.6 184.8Z"/><path d="M80.4 179.5L82.8 175.3L78.1 175.3Z"/><path d="M82.9 165.5L85.2 161.3L80.5 161.3Z"/><path d="M85.3 150.5L87.7 146.3L83.0 146.3Z"/><path d="M87.8 133.5L90.2 129.3L85.5 129.3Z"/><path d="M90.3 126.5L92.6 122.3L87.9 122.3Z"/><path d="M92.7 123.0L95.1 118.8L90.4 118.8Z"/><path d="M95.2 121.3L97.5 117.1L92.8 117.1Z"/><path d="M97.6 120.0L100.0 115.8L95.3 115.8Z"/><path d="M100.1 119.0L102.4 114.8L97.7 114.8Z"/><path d="M102.5 118.1L104.9 113.9L100.2 113.9Z"/><path d="M105.0 117.7L107.3 113.5L102.6 113.5Z"/><path d="M107.4 117.1L109.8 112.9L105.1 112.9Z"/><path d="M109.9 116.7L112.2 112.5L107.5 112.5Z"/><path d="M112.3 115.7L114.7 111.5L110.0 111.5Z"/><path d="M114.8 114.9L117.1 110.7L112.4 110.7Z"/><path d="M117.2 113.7L119.6 109.5L114.9 109.5Z"/><path d="M119.7 112.1L122.0 107.9L117.4 107.9Z"/><path d="M122.2 111.0L124.5 106.8L119.8 106.8Z"/><path d="M124.6 109.8L127.0 105.6L122.3 105.6Z"/><path d="M127.1 109.1L129.4 104.9L124.7 104.9Z"/><path d="M129.5 107.8L131.9 103.6L127.2 103.6Z"/><path d="M132.0 106.8L134.3 102.6L129.6 102.6Z"/><path d="M134.4 103.8L136.8 99.6L132.1 99.6Z"/><path d="M136.9 103.4L139.2 99.2L134.5 99.2Z"/><path d="M139.3 102.8L141.7 98.6L137.0 98.6Z"/><path d="M141.8 102.4L144.1 98.2L139.4 98.2Z"/><path d="M144.2 101.3L146.6 97.1L141.9 97.1Z"/><path d="M146.7 100.5L149.0 96.3L144.3 96.3Z"/><path d="M149.1 99.4L151.5 95.2L146.8 95.2Z"/><path d="M151.6 98.8L153.9 94.6L149.2 94.6Z"/><path d="M154.1 98.0L156.4 93.8L151.7 93.8Z"/><path d="M156.5 97.2L158.9 93.0L154.2 93.0Z"/><path d="M159.0 96.4L161.3 92.2L156.6 92.2Z"/><path d="M161.4 95.1L163.8 90.9L159.1 90.9Z"/><path d="M163.9 93.8L166.2 89.6L161.5 89.6Z"/><path d="M166.3 92.6L168.7 88.4L164.0 88.4Z"/><path d="M168.8 90.7L171.1 86.5L166.4 86.5Z"/><path d="M171.2 90.7L173.6 86.5L168.9 86.5Z"/><path d="M173.7 89.4L176.0 85.2L171.3 85.2Z"/><path d="M176.1 88.5L178.5 84.3L173.8 84.3Z"/><path d="M178.6 87.6L180.9 83.4L176.2 83.4Z"/><path d="M181.0 87.1L183.4 82.9L178.7 82.9Z"/><path d="M183.5 86.4L185.8 82.2L181.1 82.2Z"/><path d="M185.9 85.7L188.3 81.5L183.6 81.5Z"/><path d="M188.4 85.4L190.8 81.2L186.1 81.2Z"/><path d="M190.9 84.9L193.2 80.7L188.5 80.7Z"/><path d="M193.3 85.2L195.7 81.0L191.0 81.0Z"/><path d="M195.8 85.7L198.1 81.5L193.4 81.5Z"/><path d="M198.2 86.3L200.6 82.1L195.9 82.1Z"/><path d="M200.7 87.5L203.0 83.3L198.3 83.3Z"/><path d="M203.1 86.8L205.5 82.6L200.8 82.6Z"/><path d="M205.6 86.0L207.9 81.8L203.2 81.8Z"/><path d="M208.0 83.0L210.4 78.8L205.7 78.8Z"/><path d="M210.5 81.6L212.8 77.4L208.1 77.4Z"/><path d="M212.9 79.9L215.3 75.7L210.6 75.7Z"/><path d="M215.4 79.1L217.7 74.9L213.0 74.9Z"/><path d="M217.8 78.2L220.2 74.0L215.5 74.0Z"/><path d="M220.3 77.4L222.6 73.2L217.9 73.2Z"/><path d="M222.8 76.6L225.1 72.4L220.4 72.4Z"/><path d="M225.2 75.8L227.6 71.6L222.9 71.6Z"/><path d="M227.7 74.9L230.0 70.7L225.3 70.7Z"/><path d="M230.1 74.5L232.5 70.3L227.8 70.3Z"/><path d="M232.6 73.8L234.9 69.6L230.2 69.6Z"/><path d="M235.0 73.2L237.4 69.0L232.7 69.0Z"/><path d="M237.5 72.4L239.8 68.2L235.1 68.2Z"/><path d="M239.9 71.6L242.3 67.4L237.6 67.4Z"/><path d="M242.4 69.6L244.7 65.4L240.0 65.4Z"/><path d="M244.8 68.2L247.2 64.0L242.5 64.0Z"/><path d="M247.3 70.7L249.6 66.5L244.9 66.5Z"/><path d="M249.7 69.9L252.1 65.7L247.4 65.7Z"/><path d="M252.2 68.6L254.5 64.4L249.8 64.4Z"/><path d="M254.6 67.7L257.0 63.5L252.3 63.5Z"/><path d="M257.1 66.8L259.5 62.6L254.8 62.6Z"/><path d="M259.6 69.5L261.9 65.3L257.2 65.3Z"/><path d="M262.0 71.4L264.4 67.2L259.7 67.2Z"/><path d="M264.5 68.6L266.8 64.4L262.1 64.4Z"/><path d="M266.9 66.8L269.3 62.6L264.6 62.6Z"/><path d="M269.4 68.6L271.7 64.4L267.0 64.4Z"/><path d="M271.8 69.5L274.2 65.3L269.5 65.3Z"/><path d="M274.3 70.0L276.6 65.8L271.9 65.8Z"/><path d="M276.7 70.5L279.1 66.3L274.4 66.3Z"/><path d="M279.2 74.1L281.5 69.9L276.8 69.9Z"/><path d="M281.6 61.3L284.0 57.1L279.3 57.1Z"/><path d="M284.1 68.6L286.4 64.4L281.7 64.4Z"/><path d="M286.5 70.5L288.9 66.3L284.2 66.3Z"/><path d="M289.0 72.0L291.3 67.8L286.6 67.8Z"/><path d="M291.4 73.9L293.8 69.7L289.1 69.7Z"/><path d="M293.9 67.5L296.3 63.3L291.6 63.3Z"/><path d="M296.4 67.5L298.7 63.3L294.0 63.3Z"/><path d="M298.8 67.5L301.2 63.3L296.5 63.3Z"/><path d="M301.3 68.5L303.6 64.3L298.9 64.3Z"/><path d="M303.7 69.6L306.1 65.4L301.4 65.4Z"/><path d="M306.2 87.5L308.5 83.3L303.8 83.3Z"/><path d="M308.6 65.3L311.0 61.1L306.3 61.1Z"/><path d="M311.1 47.5L313.4 43.3L308.7 43.3Z"/><path d="M313.5 58.5L315.9 54.3L311.2 54.3Z"/><path d="M316.0 60.5L318.3 56.3L313.6 56.3Z"/><path d="M318.4 57.5L320.8 53.3L316.1 53.3Z"/><path d="M320.9 43.5L323.2 39.3L318.5 39.3Z"/><path d="M323.3 30.5L325.7 26.3L321.0 26.3Z"/><path d="M325.8 48.9L328.2 44.7L323.4 44.7Z"/><path d="M328.3 60.0L330.6 55.8L325.9 55.8Z"/><path d="M330.7 72.0L333.1 67.8L328.4 67.8Z"/><path d="M333.2 83.2L335.5 79.0L330.8 79.0Z"/><path d="M335.6 84.0L338.0 79.8L333.3 79.8Z"/><path d="M338.1 66.5L340.4 62.3L335.7 62.3Z"/><path d="M340.5 70.5L342.9 66.3L338.2 66.3Z"/><path d="M343.0 76.5L345.3 72.3L340.6 72.3Z"/><path d="M345.4 78.5L347.8 74.3L343.1 74.3Z"/><path d="M347.9 82.3L350.2 78.1L345.5 78.1Z"/><path d="M350.3 80.5L352.7 76.3L348.0 76.3Z"/><path d="M352.8 95.5L355.1 91.3L350.4 91.3Z"/><path d="M355.2 88.5L357.6 84.3L352.9 84.3Z"/><path d="M357.7 90.5L360.0 86.3L355.3 86.3Z"/><path d="M360.1 102.5L362.5 98.3L357.8 98.3Z"/><path d="M362.6 110.5L365.0 106.3L360.3 106.3Z"/><path d="M365.1 118.5L367.4 114.3L362.7 114.3Z"/><path d="M367.5 122.0L369.9 117.8L365.2 117.8Z"/><path d="M370.0 124.8L372.3 120.6L367.6 120.6Z"/><path d="M372.4 126.5L374.8 122.3L370.1 122.3Z"/><path d="M374.9 128.0L377.2 123.8L372.5 123.8Z"/><path d="M377.3 130.0L379.7 125.8L375.0 125.8Z"/><path d="M379.8 142.5L382.1 138.3L377.4 138.3Z"/><path d="M382.2 152.4L384.6 148.2L379.9 148.2Z"/><path d="M384.7 159.9L387.0 155.7L382.3 155.7Z"/><path d="M387.1 164.4L389.5 160.2L384.8 160.2Z"/><path d="M389.6 170.4L391.9 166.2L387.2 166.2Z"/><path d="M392.0 179.3L394.4 175.1L389.7 175.1Z"/><path d="M394.5 180.5L396.9 176.3L392.1 176.3Z"/></g>
<rect x="260.5" y="99.5" width="83.5" height="76.3" fill="#fff" stroke="#666" stroke-width="1"/><path d="M264.3 110.4H275M286.6 110.4H297.7" stroke="#333333" stroke-width="1.2"/><g fill="#000000"><rect x="278.9" y="108.3" width="4.2" height="4.2"/></g><text x="301.5" y="115.8">80</text><text x="318.7" y="115.2" style="font-size:13.2px">&#176;</text><text x="324.8" y="115.8" textLength="10.3" lengthAdjust="spacingAndGlyphs">C</text><path d="M264.3 128.5H275M286.6 128.5H297.7" stroke="#ff6060" stroke-width="1.2"/><g fill="#ff0000"><circle cx="281.0" cy="128.5" r="2.6"/></g><text x="301.2" y="133.9">150</text><text x="326.4" y="133.3" style="font-size:13.2px">&#176;</text><text x="332.3" y="133.9" textLength="10.3" lengthAdjust="spacingAndGlyphs">C</text><path d="M264.3 146.7H275M286.6 146.7H297.7" stroke="#60ff60" stroke-width="1.2"/><g fill="#00ff00"><path d="M281.0 143.5L284.0 148.9L278.0 148.9Z"/></g><text x="301.2" y="152.1">200</text><text x="326.4" y="151.5" style="font-size:13.2px">&#176;</text><text x="332.3" y="152.1" textLength="10.3" lengthAdjust="spacingAndGlyphs">C</text><path d="M264.3 164.9H275M286.6 164.9H297.7" stroke="#6060ff" stroke-width="1.2"/><g fill="#0000ff"><path d="M281.0 168.1L284.0 162.7L278.0 162.7Z"/></g><text x="301.2" y="170.3">250</text><text x="326.4" y="169.7" style="font-size:13.2px">&#176;</text><text x="332.3" y="170.3" textLength="10.3" lengthAdjust="spacingAndGlyphs">C</text>
<g style="font-size:14.5px"><text x="51.0" y="280" text-anchor="middle">300</text><text x="100.1" y="280" text-anchor="middle">400</text><text x="149.1" y="280" text-anchor="middle">500</text><text x="198.2" y="280" text-anchor="middle">600</text><text x="247.3" y="280" text-anchor="middle">700</text><text x="296.4" y="280" text-anchor="middle">800</text><text x="345.4" y="280" text-anchor="middle">900</text><text x="394.5" y="280" text-anchor="middle">1000</text><text x="42.4" y="264.0" text-anchor="end">0</text><text x="42.4" y="221.8" text-anchor="end">20</text><text x="42.4" y="179.5" text-anchor="end">40</text><text x="42.4" y="137.2" text-anchor="end">60</text><text x="42.4" y="95.0" text-anchor="end">80</text><text x="42.4" y="52.8" text-anchor="end">100</text><text x="42.4" y="10.5" text-anchor="end">120</text></g>
<text x="229.6" y="297.4" text-anchor="middle" style="font-size:14.3px">Wavelength (nm)</text>
<text transform="translate(10.5,141) rotate(-90)" text-anchor="middle" style="font-size:14.3px">Photoresponsivity (mA/W)</text>
</svg>
</body></html>
